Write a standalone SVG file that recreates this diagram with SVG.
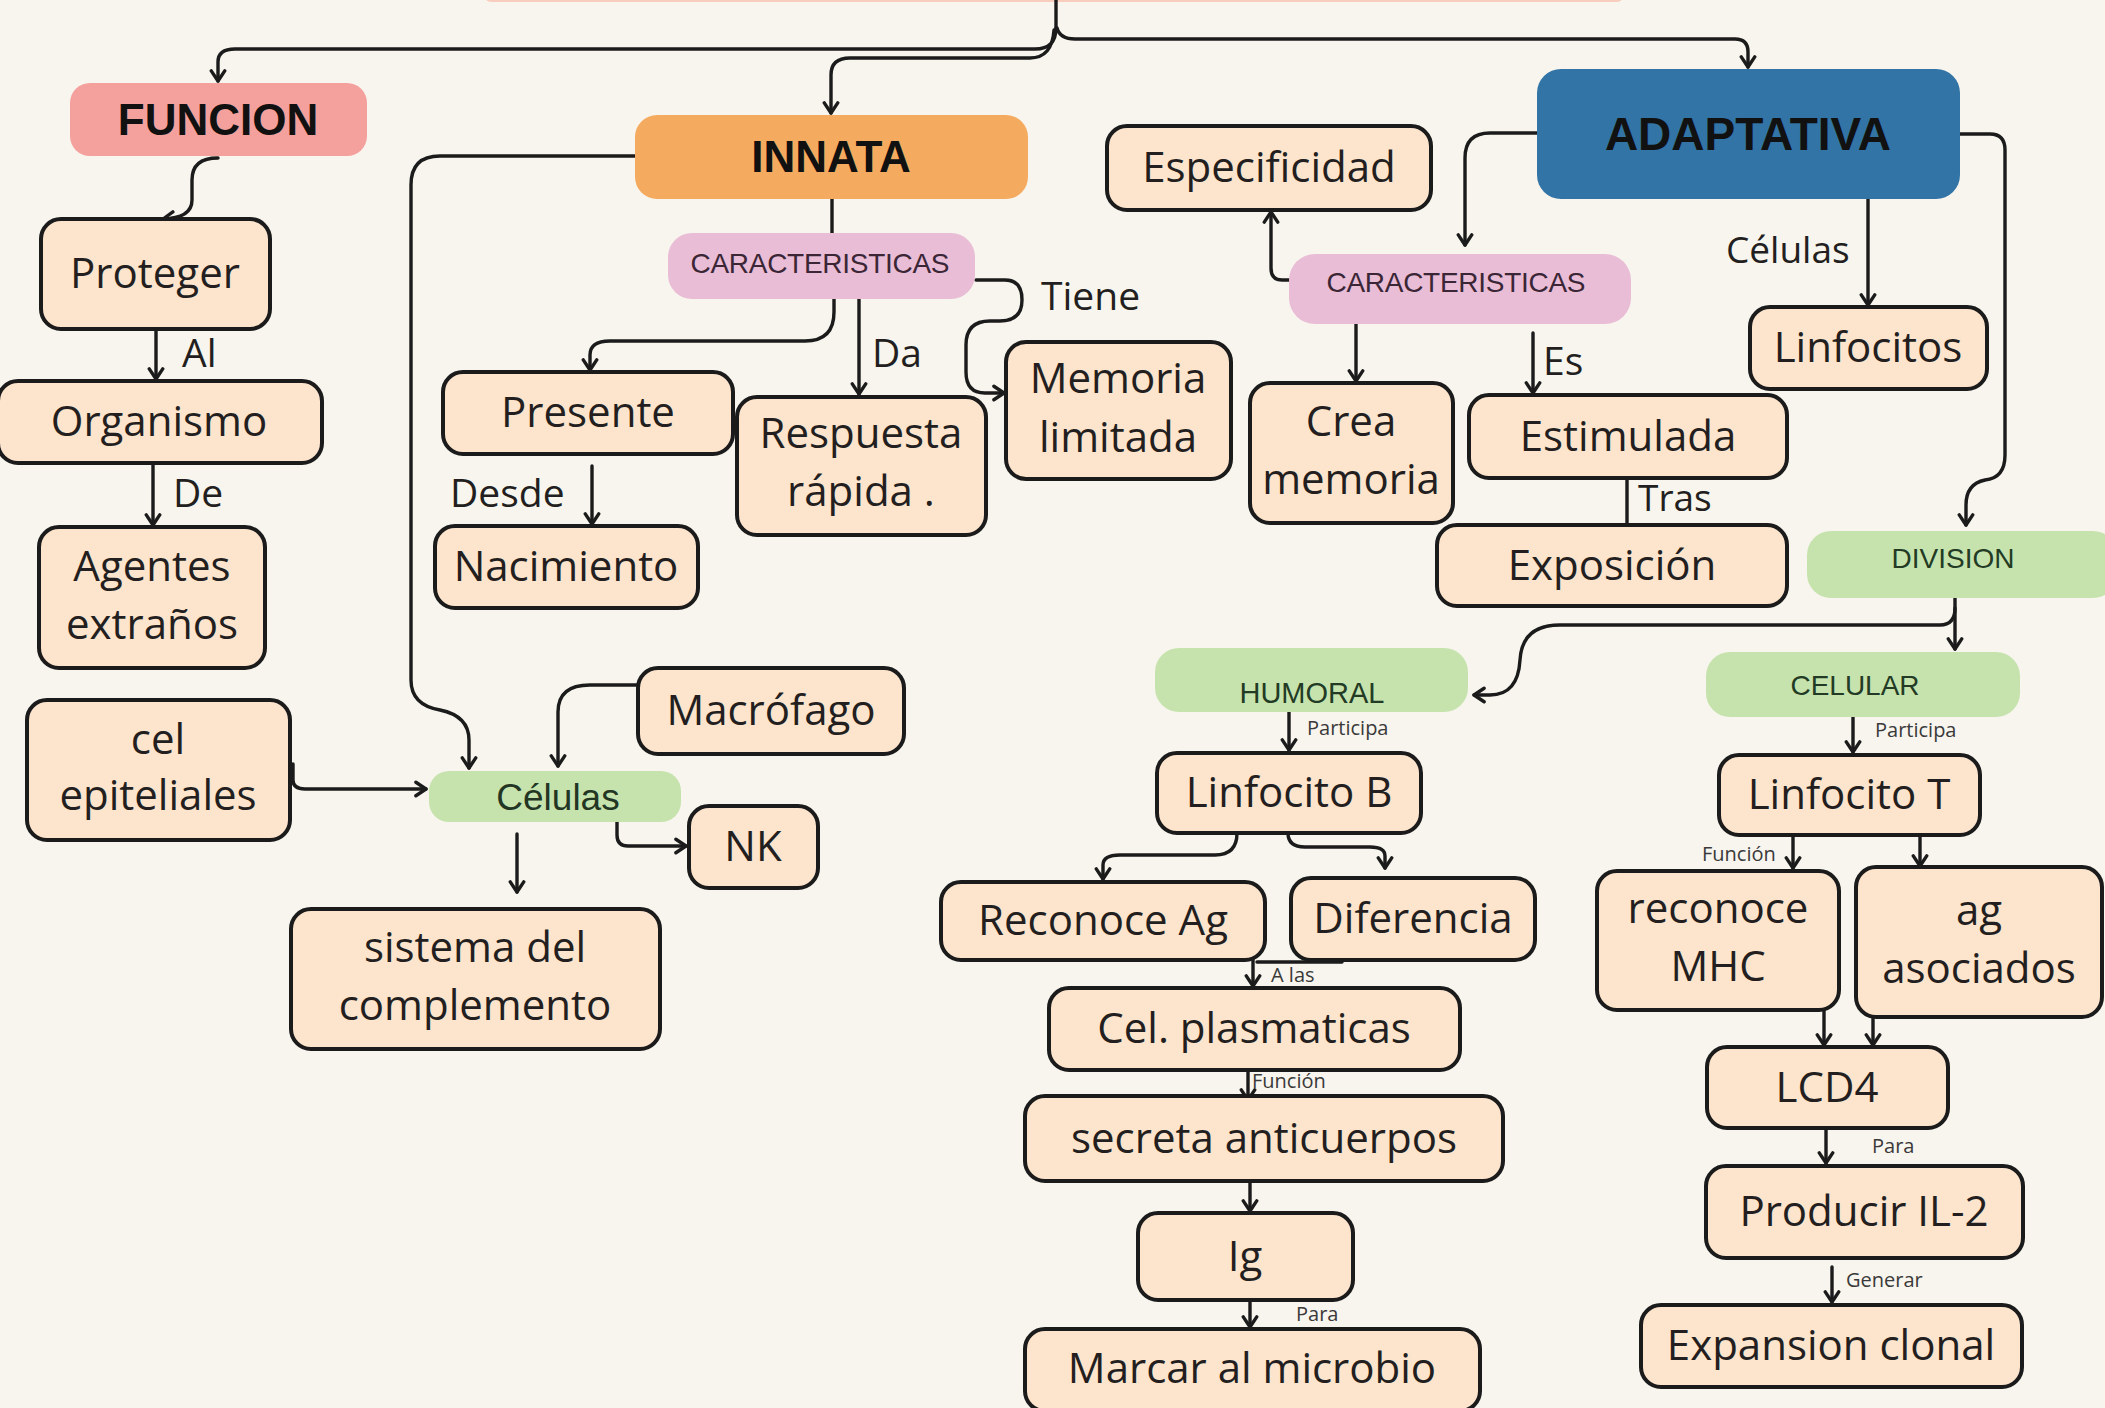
<svg xmlns="http://www.w3.org/2000/svg" width="2105" height="1408" viewBox="0 0 2105 1408">
<defs>
<marker id="ar" markerUnits="userSpaceOnUse" markerWidth="18" markerHeight="18" viewBox="0 0 16 16" refX="12" refY="8" orient="auto">
<path d="M3,2 L12,8 L3,14" fill="none" stroke="#1b1b1b" stroke-width="3" stroke-linecap="round" stroke-linejoin="round"/>
</marker>
</defs>
<style>
.bg{fill:#f8f5ee}
.box{fill:#fde4cd;stroke:#1b1b1b;stroke-width:4}
.t{font-family:"Open Sans","DejaVu Sans",sans-serif;font-size:42px;fill:#231f20;text-anchor:middle}
.h{font-family:"Liberation Sans",Arial,sans-serif;font-weight:bold;font-size:44px;fill:#111;text-anchor:middle}
.lab{font-family:"Open Sans","DejaVu Sans",sans-serif;font-size:39px;fill:#231f20}
.sm{font-family:"Open Sans","DejaVu Sans",sans-serif;font-size:20px;fill:#3a3a3a}
.tag{font-family:"Liberation Sans",Arial,sans-serif;font-size:28px;text-anchor:middle}
.c{fill:none;stroke:#1b1b1b;stroke-width:3.4;stroke-linecap:round;stroke-linejoin:round}
.a{marker-end:url(#ar)}
.pink{fill:#e9bdd6}
.green{fill:#c6e3ae}
</style>
<rect class="bg" x="0" y="0" width="2105" height="1408"/>
<rect x="485" y="-30" width="1138" height="32" rx="6" fill="#f9cdbd"/>

<g id="connectors">
<path class="c" d="M1056,0 L1056,30"/>
<path class="c a" d="M1056,28 Q1056,49 1035,49 L235,49 Q218,49 218,62 L218,81"/>
<path class="c a" d="M1054,30 Q1052,58 1030,58 L850,58 Q831,58 831,75 L831,113"/>
<path class="c a" d="M1057,28 Q1060,39 1075,39 L1735,39 Q1748,39 1748,52 L1748,67"/>
<path class="c a" d="M218,158 Q192,158 192,180 L192,200 Q192,218 163,219"/>
<path class="c a" d="M156,329 L156,379"/>
<path class="c a" d="M153,463 L153,525"/>
<path class="c" d="M832,199 L832,234"/>
<path class="c a" d="M635,156 L440,156 Q411,156 411,185 L411,680 Q411,705 440,710 Q469,716 469,740 L469,768"/>
<path class="c a" d="M834,298 L834,312 Q834,341 805,341 L610,341 Q590,341 590,355 L590,370"/>
<path class="c a" d="M855,290 Q859,292 859,300 L859,394"/>
<path class="c a" d="M976,280 L1005,280 Q1022,280 1022,300 Q1022,321 1000,321 L990,321 Q966,321 966,345 L966,372 Q966,393 985,393 L1004,393"/>
<path class="c a" d="M592,466 L592,524"/>
<path class="c a" d="M638,685 L590,685 Q558,685 558,712 L558,766"/>
<path class="c a" d="M293,764 L293,780 Q293,789 305,789 L426,789"/>
<path class="c a" d="M617,817 L617,835 Q617,846 628,846 L686,846"/>
<path class="c a" d="M517,834 L517,892"/>
<path class="c a" d="M1537,133 L1490,133 Q1465,133 1465,158 L1465,245"/>
<path class="c a" d="M1289,280 L1282,280 Q1271,280 1271,268 L1271,212"/>
<path class="c a" d="M1356,322 L1356,381"/>
<path class="c a" d="M1533,333 L1533,393"/>
<path class="c" d="M1627,478 L1627,525"/>
<path class="c a" d="M1868,199 L1868,305"/>
<path class="c a" d="M1960,134 L1990,134 Q2005,134 2005,150 L2005,455 Q2005,478 1985,480 Q1966,484 1966,505 L1966,525"/>
<path class="c a" d="M1955,576 L1955,649"/>
<path class="c a" d="M1955,608 Q1955,625 1940,625 L1560,625 Q1522,625 1520,660 Q1518,695 1490,695 L1474,695"/>
<path class="c a" d="M1289,707 L1289,750"/>
<path class="c a" d="M1237,833 Q1237,855 1215,855 L1120,855 Q1103,855 1103,865 L1103,879"/>
<path class="c a" d="M1288,833 Q1288,847 1305,847 L1370,847 Q1385,847 1385,856 L1385,868"/>
<path class="c" d="M1257,962 L1342,962"/>
<path class="c a" d="M1253,960 L1253,986"/>
<path class="c a" d="M1248,1070 L1248,1100"/>
<path class="c a" d="M1250,1181 L1250,1211"/>
<path class="c a" d="M1250,1300 L1250,1327"/>
<path class="c a" d="M1853,715 L1853,752"/>
<path class="c a" d="M1793,835 L1793,868"/>
<path class="c a" d="M1920,835 L1920,866"/>
<path class="c a" d="M1824,1010 L1824,1045"/>
<path class="c a" d="M1873,1017 L1873,1045"/>
<path class="c a" d="M1826,1128 L1826,1163"/>
<path class="c a" d="M1832,1267 L1832,1302"/>
</g>

<g id="labels">
<text class="lab" x="182" y="367">Al</text>
<text class="lab" x="173" y="507">De</text>
<text class="lab" x="450" y="507">Desde</text>
<text class="lab" x="872" y="367">Da</text>
<text class="lab" x="1041" y="310">Tiene</text>
<text class="lab" x="1543" y="375">Es</text>
<text class="lab" x="1638" y="511" style="font-size:37px">Tras</text>
<text class="lab" x="1726" y="263" style="font-size:37px">Células</text>
<text class="sm" x="1307" y="735">Participa</text>
<text class="sm" x="1875" y="737">Participa</text>
<text class="sm" x="1271" y="982">A las</text>
<text class="sm" x="1252" y="1088">Función</text>
<text class="sm" x="1296" y="1321">Para</text>
<text class="sm" x="1702" y="861">Función</text>
<text class="sm" x="1872" y="1153">Para</text>
<text class="sm" x="1846" y="1287">Generar</text>
</g>

<g id="funcion"><rect x="70" y="83" width="297" height="73" rx="20" fill="#f4a19d"/><text class="h" x="218" y="135">FUNCION</text></g>
<g id="innata"><rect x="635" y="115" width="393" height="84" rx="22" fill="#f5ab5f"/><text class="h" x="831" y="172">INNATA</text></g>
<g id="adaptativa"><rect x="1537" y="69" width="423" height="130" rx="24" fill="#3274a6"/><text class="h" x="1748" y="150" style="font-size:46px">ADAPTATIVA</text></g>

<g id="proteger"><rect class="box" x="41" y="219" width="229" height="110" rx="20"/><text class="t" x="155" y="288">Proteger</text></g>
<g id="organismo"><rect class="box" x="-2" y="381" width="324" height="82" rx="20"/><text class="t" x="159" y="436">Organismo</text></g>
<g id="agentes"><rect class="box" x="39" y="527" width="226" height="141" rx="20"/><text class="t" x="152" y="581">Agentes</text><text class="t" x="152" y="639">extraños</text></g>
<g id="epiteliales"><rect class="box" x="27" y="700" width="263" height="140" rx="20"/><text class="t" x="158" y="754">cel</text><text class="t" x="158" y="810">epiteliales</text></g>

<g id="caract-innata"><rect class="pink" x="668" y="233" width="307" height="66" rx="24"/><text class="tag" x="820" y="273" textLength="259" fill="#3b2636">CARACTERISTICAS</text></g>
<g id="presente"><rect class="box" x="443" y="372" width="290" height="82" rx="20"/><text class="t" x="588" y="427">Presente</text></g>
<g id="nacimiento"><rect class="box" x="435" y="526" width="263" height="82" rx="20"/><text class="t" x="566" y="581">Nacimiento</text></g>
<g id="respuesta"><rect class="box" x="737" y="397" width="249" height="138" rx="20"/><text class="t" x="861" y="448">Respuesta</text><text class="t" x="861" y="506">rápida .</text></g>
<g id="memoria"><rect class="box" x="1006" y="342" width="225" height="137" rx="20"/><text class="t" x="1118" y="393">Memoria</text><text class="t" x="1118" y="452">limitada</text></g>
<g id="macrofago"><rect class="box" x="638" y="668" width="266" height="86" rx="20"/><text class="t" x="771" y="725">Macrófago</text></g>
<g id="celulas"><rect class="green" x="429" y="771" width="252" height="51" rx="20"/><text class="tag" x="558" y="810" style="font-size:37px" fill="#233523">Células</text></g>
<g id="nk"><rect class="box" x="689" y="806" width="129" height="82" rx="20"/><text class="t" x="753" y="861">NK</text></g>
<g id="sistema"><rect class="box" x="291" y="909" width="369" height="140" rx="20"/><text class="t" x="475" y="962">sistema del</text><text class="t" x="475" y="1020">complemento</text></g>

<g id="especificidad"><rect class="box" x="1107" y="126" width="324" height="84" rx="20"/><text class="t" x="1269" y="182">Especificidad</text></g>
<g id="caract-adapt"><rect class="pink" x="1289" y="254" width="342" height="70" rx="26"/><text class="tag" x="1456" y="292" textLength="259" fill="#3b2636">CARACTERISTICAS</text></g>
<g id="crea"><rect class="box" x="1250" y="383" width="203" height="140" rx="20"/><text class="t" x="1351" y="436">Crea</text><text class="t" x="1351" y="494">memoria</text></g>
<g id="estimulada"><rect class="box" x="1469" y="395" width="318" height="83" rx="20"/><text class="t" x="1628" y="451">Estimulada</text></g>
<g id="exposicion"><rect class="box" x="1437" y="525" width="350" height="81" rx="20"/><text class="t" x="1612" y="580">Exposición</text></g>
<g id="linfocitos"><rect class="box" x="1750" y="307" width="237" height="82" rx="20"/><text class="t" x="1868" y="362">Linfocitos</text></g>
<g id="division"><rect class="green" x="1807" y="531" width="310" height="67" rx="24"/><text class="tag" x="1953" y="568" fill="#233b24">DIVISION</text></g>

<g id="humoral"><rect class="green" x="1155" y="648" width="313" height="64" rx="24"/><text class="tag" x="1312" y="703" style="font-size:29px" fill="#233b24">HUMORAL</text></g>
<g id="linfocito-b"><rect class="box" x="1157" y="753" width="264" height="80" rx="20"/><text class="t" x="1289" y="807">Linfocito B</text></g>
<g id="reconoce-ag"><rect class="box" x="941" y="882" width="324" height="78" rx="20"/><text class="t" x="1103" y="935">Reconoce Ag</text></g>
<g id="diferencia"><rect class="box" x="1291" y="878" width="244" height="82" rx="20"/><text class="t" x="1413" y="933">Diferencia</text></g>
<g id="plasmaticas"><rect class="box" x="1049" y="988" width="411" height="82" rx="20"/><text class="t" x="1254" y="1043">Cel. plasmaticas</text></g>
<g id="secreta"><rect class="box" x="1025" y="1096" width="478" height="85" rx="20"/><text class="t" x="1264" y="1153">secreta anticuerpos</text></g>
<g id="ig"><rect class="box" x="1138" y="1213" width="215" height="87" rx="20"/><text class="t" x="1245" y="1271">Ig</text></g>
<g id="marcar"><rect class="box" x="1025" y="1329" width="455" height="82" rx="20"/><text class="t" x="1252" y="1383">Marcar al microbio</text></g>

<g id="celular"><rect class="green" x="1706" y="652" width="314" height="65" rx="24"/><text class="tag" x="1855" y="695" fill="#233b24">CELULAR</text></g>
<g id="linfocito-t"><rect class="box" x="1719" y="755" width="261" height="80" rx="20"/><text class="t" x="1849" y="809">Linfocito T</text></g>
<g id="mhc"><rect class="box" x="1597" y="871" width="242" height="139" rx="20"/><text class="t" x="1718" y="923">reconoce</text><text class="t" x="1718" y="981">MHC</text></g>
<g id="ag"><rect class="box" x="1856" y="867" width="246" height="150" rx="20"/><text class="t" x="1979" y="925">ag</text><text class="t" x="1979" y="983">asociados</text></g>
<g id="lcd4"><rect class="box" x="1707" y="1047" width="241" height="81" rx="20"/><text class="t" x="1827" y="1102">LCD4</text></g>
<g id="producir"><rect class="box" x="1706" y="1166" width="317" height="92" rx="20"/><text class="t" x="1864" y="1226">Producir IL-2</text></g>
<g id="expansion"><rect class="box" x="1641" y="1305" width="381" height="82" rx="20"/><text class="t" x="1831" y="1360">Expansion clonal</text></g>
</svg>
